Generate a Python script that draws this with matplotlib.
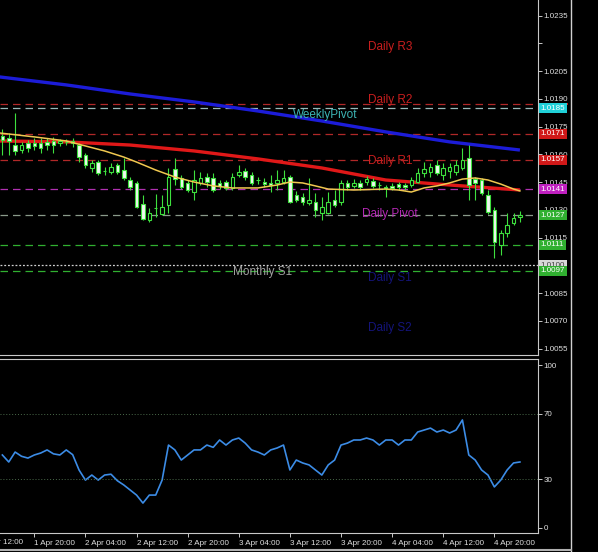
import numpy as np
import matplotlib.pyplot as plt
from matplotlib.lines import Line2D
from matplotlib.patches import Rectangle

plt.rcParams['font.family'] = ['Liberation Sans', 'DejaVu Sans']

# hourly candles, 1 Apr 15:00 -> 5 Apr 00:00
opens = [1.01699, 1.01688, 1.01650, 1.01623, 1.01661, 1.01661, 1.01661, 1.01667, 1.01672, 1.01661,
         1.01667, 1.01672, 1.01650, 1.01596, 1.01526, 1.01558, 1.01510, 1.01504, 1.01542, 1.01515,
         1.01461, 1.01445, 1.01331, 1.01245, 1.01310, 1.01277, 1.01326, 1.01521, 1.01472, 1.01445,
         1.01396, 1.01445, 1.01477, 1.01472, 1.01445, 1.01450, 1.01418, 1.01488, 1.01510, 1.01488,
         1.01461, 1.01450, 1.01445, 1.01445, 1.01450, 1.01477, 1.01380, 1.01369, 1.01337, 1.01342,
         1.01283, 1.01283, 1.01353, 1.01342, 1.01445, 1.01429, 1.01445, 1.01450, 1.01456, 1.01434,
         1.01423, 1.01429, 1.01439, 1.01434, 1.01434, 1.01450, 1.01499, 1.01504, 1.01542, 1.01488,
         1.01510, 1.01504, 1.01526, 1.01580, 1.01466, 1.01461, 1.01380, 1.01299, 1.01110, 1.01175,
         1.01229, 1.01261]
highs = [1.01737, 1.01715, 1.01823, 1.01667, 1.01677, 1.01688, 1.01688, 1.01688, 1.01694, 1.01683,
         1.01683, 1.01688, 1.01661, 1.01607, 1.01569, 1.01569, 1.01531, 1.01553, 1.01553, 1.01580,
         1.01477, 1.01456, 1.01380, 1.01310, 1.01385, 1.01380, 1.01526, 1.01580, 1.01488, 1.01461,
         1.01515, 1.01504, 1.01499, 1.01499, 1.01461, 1.01461, 1.01499, 1.01542, 1.01526, 1.01504,
         1.01477, 1.01472, 1.01488, 1.01515, 1.01515, 1.01488, 1.01402, 1.01391, 1.01472, 1.01391,
         1.01369, 1.01396, 1.01407, 1.01461, 1.01461, 1.01466, 1.01461, 1.01483, 1.01472, 1.01450,
         1.01434, 1.01445, 1.01450, 1.01445, 1.01477, 1.01526, 1.01558, 1.01553, 1.01569, 1.01553,
         1.01553, 1.01569, 1.01634, 1.01650, 1.01477, 1.01472, 1.01407, 1.01315, 1.01191, 1.01283,
         1.01283, 1.01294]
lows = [1.01596, 1.01596, 1.01596, 1.01607, 1.01612, 1.01623, 1.01607, 1.01623, 1.01607, 1.01645,
        1.01650, 1.01639, 1.01558, 1.01526, 1.01504, 1.01488, 1.01488, 1.01493, 1.01493, 1.01461,
        1.01407, 1.01310, 1.01245, 1.01234, 1.01261, 1.01272, 1.01283, 1.01434, 1.01412, 1.01396,
        1.01353, 1.01434, 1.01423, 1.01396, 1.01412, 1.01407, 1.01407, 1.01477, 1.01461, 1.01434,
        1.01439, 1.01423, 1.01396, 1.01407, 1.01439, 1.01337, 1.01342, 1.01326, 1.01326, 1.01261,
        1.01245, 1.01277, 1.01315, 1.01326, 1.01407, 1.01418, 1.01407, 1.01434, 1.01418, 1.01407,
        1.01369, 1.01407, 1.01407, 1.01407, 1.01423, 1.01445, 1.01477, 1.01477, 1.01488, 1.01461,
        1.01472, 1.01488, 1.01515, 1.01353, 1.01353, 1.01380, 1.01277, 1.01040, 1.01056, 1.01153,
        1.01218, 1.01234]
closes = [1.01677, 1.01672, 1.01618, 1.01650, 1.01634, 1.01645, 1.01634, 1.01650, 1.01650, 1.01672,
          1.01666, 1.01661, 1.01585, 1.01542, 1.01553, 1.01499, 1.01509, 1.01531, 1.01504, 1.01472,
          1.01423, 1.01315, 1.01250, 1.01283, 1.01309, 1.01315, 1.01477, 1.01466, 1.01423, 1.01407,
          1.01461, 1.01472, 1.01450, 1.01407, 1.01429, 1.01418, 1.01477, 1.01504, 1.01477, 1.01445,
          1.01460, 1.01439, 1.01434, 1.01461, 1.01472, 1.01342, 1.01353, 1.01342, 1.01353, 1.01299,
          1.01315, 1.01342, 1.01326, 1.01445, 1.01423, 1.01445, 1.01423, 1.01466, 1.01429, 1.01433,
          1.01418, 1.01418, 1.01423, 1.01423, 1.01461, 1.01499, 1.01521, 1.01531, 1.01499, 1.01526,
          1.01531, 1.01542, 1.01569, 1.01434, 1.01445, 1.01391, 1.01288, 1.01126, 1.01175, 1.01218,
          1.01256, 1.01272]

# moving averages read at a few bars
ma_slow_bar = [-0.4, 10, 20, 30, 40, 50, 60, 70, 81]
ma_slow = [1.02018, 1.01975, 1.01926, 1.01883, 1.01834, 1.01780, 1.01721, 1.01667, 1.01623]
ma_mid_bar = [-0.4, 10, 20, 30, 40, 50, 60, 70, 81]
ma_mid = [1.01672, 1.01667, 1.01650, 1.01618, 1.01575, 1.01526, 1.01461, 1.01434, 1.01407]
ma_fast_bar = [-0.4, 5, 10, 13, 16, 19, 21, 24, 27, 30, 33, 36, 40, 43, 45, 47, 49, 51, 55, 60,
               62, 64, 66, 68, 70, 72, 74, 76, 78, 80, 81]
ma_fast = [1.01715, 1.01694, 1.01672, 1.01645, 1.01618, 1.01585, 1.01558, 1.01515, 1.01477, 1.01450,
           1.01429, 1.01418, 1.01418, 1.01434, 1.01450, 1.01445, 1.01429, 1.01412, 1.01407, 1.01412,
           1.01407, 1.01396, 1.01418, 1.01429, 1.01445, 1.01466, 1.01472, 1.01461, 1.01439, 1.01412,
           1.01402]

rsi = [44.8, 40.5, 46.6, 44.0, 42.9, 44.8, 46.0, 47.9, 45.5, 44.8,
       47.9, 45.0, 35.6, 29.4, 32.5, 29.4, 32.5, 33.0, 29.0, 26.4,
       23.3, 20.2, 15.3, 20.2, 20.2, 29.4, 50.9, 47.9, 41.7, 44.8,
       47.9, 47.9, 50.9, 49.5, 54.0, 50.9, 54.0, 55.2, 52.1, 47.9,
       46.6, 44.8, 47.9, 49.1, 50.9, 35.6, 41.7, 39.9, 38.7, 35.6,
       32.5, 38.7, 41.7, 50.9, 52.1, 54.0, 54.0, 55.2, 54.0, 50.9,
       54.0, 54.0, 50.9, 54.0, 54.0, 58.9, 60.1, 61.3, 58.9, 60.1,
       58.3, 60.1, 66.3, 44.8, 41.7, 35.6, 32.5, 25.2, 29.4, 35.6,
       39.9, 40.5]

# pivot levels (price, line colour, box colour, label)
levels = [1.01872, 1.0185, 1.0171, 1.0157, 1.0141, 1.0127, 1.0111, 1.0100, 1.0097]
level_line = ['#b02828', '#9ab8b8', '#b02828', '#b02828', '#b030b0', '#8a9a8a', '#30b030', '#d0d0d0', '#30b030']
level_box = ['#d01818', '#20d0d8', '#d01818', '#d01818', '#c020c0', '#30b030', '#30b030', '#d8d8d8', '#30b030']
level_text = ['', '1.0185', '1.0171', '1.0157', '1.0141', '1.0127', '1.0111', '1.0100', '1.0097']

price_ticks = [1.0235, 1.0220, 1.0205, 1.0190, 1.0175, 1.0160, 1.0145, 1.0130, 1.0115, 1.0100,
               1.0085, 1.0070, 1.0055]
price_labels = ['1.0235', '', '1.0205', '1.0190', '1.0175', '1.0160', '1.0145', '1.0130', '1.0115',
                '', '1.0085', '1.0070', '1.0055']

time_bars = [-3, 5, 13, 21, 29, 37, 45, 53, 61, 69, 77]
time_labels = ['1 Apr 12:00', '1 Apr 20:00', '2 Apr 04:00', '2 Apr 12:00', '2 Apr 20:00', '3 Apr 04:00',
               '3 Apr 12:00', '3 Apr 20:00', '4 Apr 04:00', '4 Apr 12:00', '4 Apr 20:00']

notes = [('Daily R3', 368, 47, '#c81e1e'), ('Daily R2', 368, 100, '#c81e1e'),
         ('WeeklyPivot', 293, 115, '#3cb4b4'), ('Daily R1', 368, 161, '#c81e1e'),
         ('Daily Pivot', 362, 214, '#b428b4'), ('Monthly S1', 233, 272, '#a0a0a0'),
         ('Daily S1', 368, 278, '#14147a'), ('Daily S2', 368, 328, '#14147a')]

W, H = 598, 552
fig = plt.figure(figsize=(W / 100, H / 100), dpi=100, facecolor='black')
ax = fig.add_axes([0, (H - 355) / H, 538 / W, 355 / H], facecolor='black')
ax2 = fig.add_axes([0, (H - 533) / H, 538 / W, (533 - 359) / H], facecolor='black')

grey = '#c8c8c8'
for a in (ax, ax2):
    a.set_xlim(-0.37, 83.83)
    for s in ('left', 'top'):
        a.spines[s].set_visible(False)
    for s in ('right', 'bottom'):
        a.spines[s].set_color(grey)
        a.spines[s].set_linewidth(0.8)
ax2.spines['top'].set_visible(True)
ax2.spines['top'].set_color(grey)
ax2.spines['top'].set_linewidth(0.8)

ax.set_ylim(1.00515, 1.02434)
ax2.set_ylim(-3.07, 103.7)

# pivot lines
for lv, lc in zip(levels, level_line):
    ls = (0, (1.5, 1.5)) if lc == '#d0d0d0' else (0, (6, 4))
    ax.axhline(lv, color=lc, lw=0.9, ls=ls, zorder=1)

# moving averages
ax.plot(ma_slow_bar, ma_slow, color='#1c1cd8', lw=2.4, zorder=2, solid_capstyle='butt')
ax.plot(ma_mid_bar, ma_mid, color='#e01818', lw=2.4, zorder=2, solid_capstyle='butt')

# candles
x = np.arange(len(opens))
o = np.array(opens)
c = np.array(closes)
green = '#3ee03e'
ax.vlines(x, lows, highs, color=green, lw=0.8, zorder=3)
bull = c >= o
body_lo = np.minimum(o, c)
body_h = np.maximum(np.abs(c - o), 0.00002)
ax.bar(x[bull], body_h[bull], bottom=body_lo[bull], width=0.55, color='black',
       edgecolor=green, linewidth=0.8, zorder=4)
ax.bar(x[~bull], body_h[~bull], bottom=body_lo[~bull], width=0.55, color='#f0f8f0',
       edgecolor=green, linewidth=0.8, zorder=4)

ax.plot(ma_fast_bar, ma_fast, color='#f0c850', lw=1.1, zorder=5)

# price scale
ax.yaxis.tick_right()
ax.set_yticks(price_ticks)
ax.set_yticklabels(price_labels)
ax.tick_params(axis='y', colors=grey, labelcolor='#e0e0e0', labelsize=5.8, length=3, width=0.7, pad=1)
ax.set_xticks([])
ytr = ax.get_yaxis_transform()
for lv, bc, lt in zip(levels, level_box, level_text):
    if not lt:
        # level hidden behind the next box: only a thin strip shows
        ax.add_patch(Rectangle((1.004, lv - 0.00006), 0.052, 0.00012, transform=ytr,
                               facecolor=bc, edgecolor='none', clip_on=False, zorder=3))
        continue
    tc = '#404040' if bc == '#d8d8d8' else 'white'
    ax.text(1.005, lv, lt, transform=ytr, ha='left', va='center', fontsize=5.8,
            color=tc, clip_on=False, zorder=4,
            bbox=dict(boxstyle='square,pad=0.18', facecolor=bc, edgecolor='none'))

for txt, px, py, col in notes:
    ax.text(px / 538, 1 - py / 355, txt, transform=ax.transAxes, ha='left', va='center',
            fontsize=8.5, color=col, zorder=6)

# RSI panel
ax2.plot(x, rsi, color='#3c8ce6', lw=1.2)
for lv in (70, 30):
    ax2.axhline(lv, color='#4a6a4a', lw=0.7, ls=(0, (1, 2)))
ax2.yaxis.tick_right()
ax2.set_yticks([0, 30, 70, 100])
ax2.set_yticklabels(['0', '30', '70', '100'])
ax2.tick_params(axis='y', colors=grey, labelcolor='#e0e0e0', labelsize=5.8, length=3, width=0.7, pad=1)
ax2.set_xticks(time_bars[1:])
ax2.set_xticklabels(time_labels[1:], ha='left')
ax2.tick_params(axis='x', colors=grey, labelcolor='#e0e0e0', labelsize=5.8, length=3, width=0.7, pad=2)
xtr = ax2.get_xaxis_transform()
ax2.text(time_bars[0] - 0.15, -0.035, time_labels[0], transform=xtr, ha='left', va='top',
         fontsize=5.8, color='#e0e0e0', clip_on=False)

# window frame
fig.add_artist(Line2D([571 / W, 571 / W], [0, 1], color='#d0d0d0', lw=1.0))
fig.add_artist(Line2D([0, 571 / W], [1 - 550 / H, 1 - 550 / H], color='#b0b0b0', lw=1.5))

fig.savefig('out.png', dpi=100, facecolor='black')
